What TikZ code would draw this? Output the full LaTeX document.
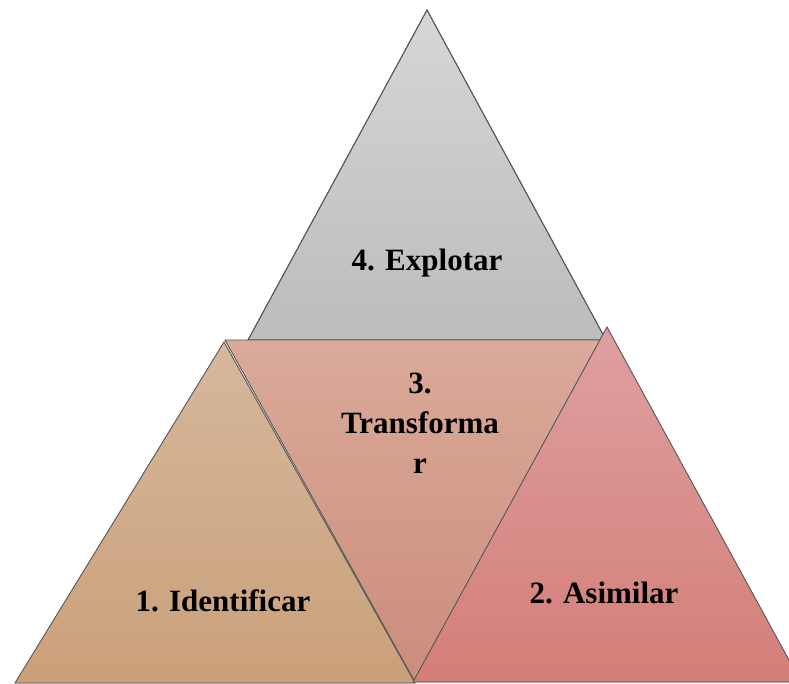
\documentclass[tikz,border=0pt]{standalone}
\usepackage{fontspec}
\setmainfont{Liberation Serif}
\begin{document}
\begin{tikzpicture}[x=1pt,y=-1pt,
  tri/.style={draw=black!65, line width=0.9pt, line join=miter},
  lbl/.style={font=\fontsize{31}{40}\selectfont\bfseries, align=center, text=black, inner sep=0pt}]
\useasboundingbox (0,0) rectangle (789,684);
% top gray
\fill[tri, top color={rgb,255:red,214;green,214;blue,214}, bottom color={rgb,255:red,188;green,188;blue,188}]
  (427,10) -- (606,340) -- (248,340) -- cycle;
\draw[tri] (427,10) -- (606,340) -- (248,340) -- cycle;
% middle inverted
\fill[top color={rgb,255:red,218;green,170;blue,154}, bottom color={rgb,255:red,204;green,140;blue,124}]
  (225,340) -- (607,340) -- (415,682) -- cycle;
\draw[tri] (225,340) -- (607,340) -- (415,682) -- cycle;
% left
\fill[top color={rgb,255:red,214;green,184;blue,156}, bottom color={rgb,255:red,202;green,160;blue,122}]
  (224,342) -- (415,683) -- (15,683) -- cycle;
\draw[tri] (224,342) -- (415,683) -- (15,683) -- cycle;
% right
\fill[top color={rgb,255:red,222;green,160;blue,160}, bottom color={rgb,255:red,212;green,126;blue,120}]
  (607,327) -- (801,682) -- (413,682) -- cycle;
\draw[tri] (607,327) -- (801,682) -- (413,682) -- cycle;
\node[lbl] (explotar) at (427,263) {4. Explotar};
\node[lbl] (transformar) at (420,423) {3.\\Transforma\\r};
\node[lbl] (identificar) at (223,601) {1. Identificar};
\node[lbl] (asimilar) at (604,593) {2. Asimilar};
\end{tikzpicture}
\end{document}
